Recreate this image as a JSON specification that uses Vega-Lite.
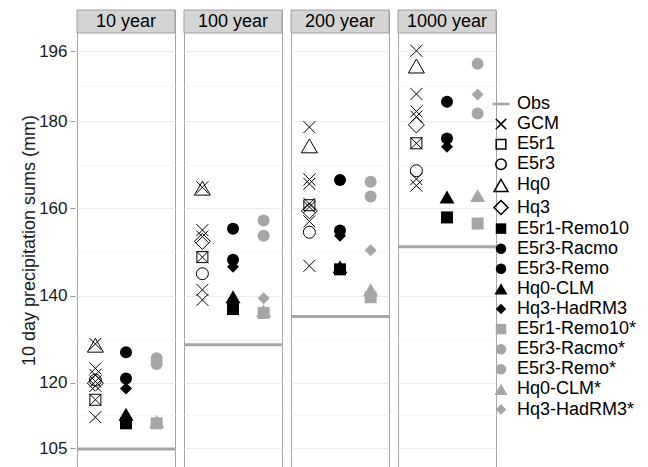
{
  "$schema": "https://vega.github.io/schema/vega-lite/v6.json",
  "autosize": "none",
  "padding": {"left": 77, "top": 10, "right": 571, "bottom": 457},
  "config": {
    "font": "Liberation Sans",
    "view": {"stroke": "#a6a6a6", "strokeWidth": 1}
  },
  "data": {
    "values": [
      {"p": "10 year", "m": "Obs", "v": 104.8},
      {"p": "10 year", "m": "GCM", "g": 1, "v": 128.9},
      {"p": "10 year", "m": "GCM", "g": 1, "v": 123.3},
      {"p": "10 year", "m": "GCM", "g": 1, "v": 121.8},
      {"p": "10 year", "m": "GCM", "g": 1, "v": 120.3},
      {"p": "10 year", "m": "GCM", "g": 1, "v": 119.3},
      {"p": "10 year", "m": "GCM", "g": 1, "v": 116.1},
      {"p": "10 year", "m": "GCM", "g": 1, "v": 112.1},
      {"p": "10 year", "m": "E5r1", "g": 1, "v": 116.1},
      {"p": "10 year", "m": "E5r3", "g": 1, "v": 120.6},
      {"p": "10 year", "m": "Hq0", "g": 1, "v": 128.6},
      {"p": "10 year", "m": "Hq3", "g": 1, "v": 119.9},
      {"p": "10 year", "m": "E5r1-Remo10", "g": 2, "v": 110.7},
      {"p": "10 year", "m": "E5r3-Racmo", "g": 2, "v": 127.0},
      {"p": "10 year", "m": "E5r3-Remo", "g": 2, "v": 121.0},
      {"p": "10 year", "m": "Hq0-CLM", "g": 2, "v": 112.8},
      {"p": "10 year", "m": "Hq3-HadRM3", "g": 2, "v": 118.7},
      {"p": "10 year", "m": "E5r1-Remo10*", "g": 3, "v": 110.7},
      {"p": "10 year", "m": "E5r3-Racmo*", "g": 3, "v": 125.6},
      {"p": "10 year", "m": "E5r3-Remo*", "g": 3, "v": 124.3},
      {"p": "10 year", "m": "Hq0-CLM*", "g": 3, "v": 111.1},
      {"p": "10 year", "m": "Hq3-HadRM3*", "g": 3, "v": 125.0},

      {"p": "100 year", "m": "Obs", "v": 128.7},
      {"p": "100 year", "m": "GCM", "g": 1, "v": 164.8},
      {"p": "100 year", "m": "GCM", "g": 1, "v": 155.0},
      {"p": "100 year", "m": "GCM", "g": 1, "v": 153.5},
      {"p": "100 year", "m": "GCM", "g": 1, "v": 148.8},
      {"p": "100 year", "m": "GCM", "g": 1, "v": 141.3},
      {"p": "100 year", "m": "GCM", "g": 1, "v": 139.0},
      {"p": "100 year", "m": "E5r1", "g": 1, "v": 148.8},
      {"p": "100 year", "m": "E5r3", "g": 1, "v": 145.0},
      {"p": "100 year", "m": "Hq0", "g": 1, "v": 164.6},
      {"p": "100 year", "m": "Hq3", "g": 1, "v": 152.4},
      {"p": "100 year", "m": "E5r1-Remo10", "g": 2, "v": 136.9},
      {"p": "100 year", "m": "E5r3-Racmo", "g": 2, "v": 155.3},
      {"p": "100 year", "m": "E5r3-Remo", "g": 2, "v": 148.2},
      {"p": "100 year", "m": "Hq0-CLM", "g": 2, "v": 139.7},
      {"p": "100 year", "m": "Hq3-HadRM3", "g": 2, "v": 146.6},
      {"p": "100 year", "m": "E5r1-Remo10*", "g": 3, "v": 136.0},
      {"p": "100 year", "m": "E5r3-Racmo*", "g": 3, "v": 157.2},
      {"p": "100 year", "m": "E5r3-Remo*", "g": 3, "v": 153.7},
      {"p": "100 year", "m": "Hq0-CLM*", "g": 3, "v": 136.5},
      {"p": "100 year", "m": "Hq3-HadRM3*", "g": 3, "v": 139.4},

      {"p": "200 year", "m": "Obs", "v": 135.2},
      {"p": "200 year", "m": "GCM", "g": 1, "v": 178.6},
      {"p": "200 year", "m": "GCM", "g": 1, "v": 166.6},
      {"p": "200 year", "m": "GCM", "g": 1, "v": 165.6},
      {"p": "200 year", "m": "GCM", "g": 1, "v": 161.0},
      {"p": "200 year", "m": "GCM", "g": 1, "v": 160.3},
      {"p": "200 year", "m": "GCM", "g": 1, "v": 157.0},
      {"p": "200 year", "m": "GCM", "g": 1, "v": 146.8},
      {"p": "200 year", "m": "E5r1", "g": 1, "v": 160.7},
      {"p": "200 year", "m": "E5r3", "g": 1, "v": 154.5},
      {"p": "200 year", "m": "Hq0", "g": 1, "v": 174.3},
      {"p": "200 year", "m": "Hq3", "g": 1, "v": 159.4},
      {"p": "200 year", "m": "E5r1-Remo10", "g": 2, "v": 146.0},
      {"p": "200 year", "m": "E5r3-Racmo", "g": 2, "v": 166.5},
      {"p": "200 year", "m": "E5r3-Remo", "g": 2, "v": 154.9},
      {"p": "200 year", "m": "Hq0-CLM", "g": 2, "v": 146.6},
      {"p": "200 year", "m": "Hq3-HadRM3", "g": 2, "v": 153.7},
      {"p": "200 year", "m": "E5r1-Remo10*", "g": 3, "v": 139.6},
      {"p": "200 year", "m": "E5r3-Racmo*", "g": 3, "v": 166.1},
      {"p": "200 year", "m": "E5r3-Remo*", "g": 3, "v": 162.7},
      {"p": "200 year", "m": "Hq0-CLM*", "g": 3, "v": 141.3},
      {"p": "200 year", "m": "Hq3-HadRM3*", "g": 3, "v": 150.4},

      {"p": "1000 year", "m": "Obs", "v": 151.2},
      {"p": "1000 year", "m": "GCM", "g": 1, "v": 196.1},
      {"p": "1000 year", "m": "GCM", "g": 1, "v": 186.2},
      {"p": "1000 year", "m": "GCM", "g": 1, "v": 182.2},
      {"p": "1000 year", "m": "GCM", "g": 1, "v": 181.0},
      {"p": "1000 year", "m": "GCM", "g": 1, "v": 174.9},
      {"p": "1000 year", "m": "GCM", "g": 1, "v": 166.7},
      {"p": "1000 year", "m": "GCM", "g": 1, "v": 165.2},
      {"p": "1000 year", "m": "E5r1", "g": 1, "v": 174.9},
      {"p": "1000 year", "m": "E5r3", "g": 1, "v": 168.6},
      {"p": "1000 year", "m": "Hq0", "g": 1, "v": 192.6},
      {"p": "1000 year", "m": "Hq3", "g": 1, "v": 179.1},
      {"p": "1000 year", "m": "E5r1-Remo10", "g": 2, "v": 157.9},
      {"p": "1000 year", "m": "E5r3-Racmo", "g": 2, "v": 184.4},
      {"p": "1000 year", "m": "E5r3-Remo", "g": 2, "v": 176.0},
      {"p": "1000 year", "m": "Hq0-CLM", "g": 2, "v": 162.6},
      {"p": "1000 year", "m": "Hq3-HadRM3", "g": 2, "v": 174.1},
      {"p": "1000 year", "m": "E5r1-Remo10*", "g": 3, "v": 156.5},
      {"p": "1000 year", "m": "E5r3-Racmo*", "g": 3, "v": 193.1},
      {"p": "1000 year", "m": "E5r3-Remo*", "g": 3, "v": 181.7},
      {"p": "1000 year", "m": "Hq0-CLM*", "g": 3, "v": 162.9},
      {"p": "1000 year", "m": "Hq3-HadRM3*", "g": 3, "v": 186.1}
    ]
  },
  "facet": {
    "column": {
      "field": "p",
      "type": "nominal",
      "sort": ["10 year", "100 year", "200 year", "1000 year"],
      "header": {"title": null, "labels": false}
    }
  },
  "spacing": {"column": 5},
  "spec": {
    "width": 98,
    "height": 460,
    "encoding": {
      "y": {
        "field": "v",
        "type": "quantitative",
        "scale": {"domain": [100, 205.45], "nice": false, "zero": false},
        "axis": {
          "title": "10 day precipitation sums (mm)",
          "titleFontSize": 18,
          "titleFontWeight": "normal",
          "titleColor": "#1a1a1a",
          "titlePadding": 0,
          "values": [105, 112.5, 120, 130, 140, 150, 160, 170, 180, 188, 196],
          "labelExpr": "indexof([105,120,140,160,180,196], datum.value) >= 0 ? datum.label : ''",
          "labelOverlap": false,
          "labelFlush": false,
          "labelFontSize": 17,
          "labelColor": "#1a1a1a",
          "labelPadding": 3,
          "tickSize": 5,
          "tickColor": "#999999",
          "tickOpacity": {"condition": {"test": "indexof([105,120,140,160,180,196], datum.value) < 0", "value": 0}, "value": 1},
          "domain": false,
          "grid": true,
          "gridColor": {"condition": {"test": "indexof([105,120,140,160,180,196], datum.value) < 0", "value": "#f5f5f5"}, "value": "#ebebeb"},
          "gridWidth": 1
        }
      }
    },
    "layer": [
      {
        "transform": [{"filter": "datum.m === 'Obs'"}],
        "mark": {"type": "rule", "color": "#a6a6a6", "strokeWidth": 3},
        "encoding": {}
      },
      {
        "transform": [{"filter": "datum.m !== 'Obs'"}],
        "mark": {"type": "point", "filled": true, "opacity": 1, "strokeWidth": 1, "size": 144},
        "encoding": {
          "x": {
            "field": "g",
            "type": "quantitative",
            "scale": {"domain": [0.4, 3.6], "nice": false, "zero": false},
            "axis": null
          },
          "shape": {
            "field": "m",
            "type": "nominal",
            "scale": {
              "domain": ["Obs", "GCM", "E5r1", "E5r3", "Hq0", "Hq3", "E5r1-Remo10", "E5r3-Racmo", "E5r3-Remo", "Hq0-CLM", "Hq3-HadRM3", "E5r1-Remo10*", "E5r3-Racmo*", "E5r3-Remo*", "Hq0-CLM*", "Hq3-HadRM3*"],
              "range": [
                "M-1.6,-0.25H1.6V0.25H-1.6Z",
                "M-1,-1L1,1M-1,1L1,-1",
                "M-0.917,-0.917H0.917V0.917H-0.917Z",
                "circle",
                "M0,-1.155L1.333,1.155L-1.333,1.155Z",
                "M0,-1.333L1.333,0L0,1.333L-1.333,0Z",
                "square",
                "circle",
                "circle",
                "M0,-1.083L1.25,1.083L-1.25,1.083Z",
                "diamond",
                "square",
                "circle",
                "circle",
                "M0,-1.083L1.25,1.083L-1.25,1.083Z",
                "diamond"
              ]
            },
            "legend": {
              "title": null,
              "orient": "none",
              "legendX": 415,
              "legendY": 85,
              "labelFontSize": 18,
              "labelColor": "#000000",
              "symbolSize": 110,
              "rowPadding": 2.1,
              "labelOffset": 7,
              "padding": 0
            }
          },
          "fill": {
            "field": "m",
            "type": "nominal",
            "scale": {
              "domain": ["Obs", "GCM", "E5r1", "E5r3", "Hq0", "Hq3", "E5r1-Remo10", "E5r3-Racmo", "E5r3-Remo", "Hq0-CLM", "Hq3-HadRM3", "E5r1-Remo10*", "E5r3-Racmo*", "E5r3-Remo*", "Hq0-CLM*", "Hq3-HadRM3*"],
              "range": ["#a6a6a6", "transparent", "transparent", "transparent", "transparent", "transparent", "#000000", "#000000", "#000000", "#000000", "#000000", "#a6a6a6", "#a6a6a6", "#a6a6a6", "#a6a6a6", "#a6a6a6"]
            },
            "legend": {
              "title": null,
              "orient": "none",
              "legendX": 415,
              "legendY": 85,
              "labelFontSize": 18,
              "labelColor": "#000000",
              "symbolSize": 110,
              "rowPadding": 2.1,
              "labelOffset": 7,
              "padding": 0
            }
          },
          "stroke": {
            "field": "m",
            "type": "nominal",
            "scale": {
              "domain": ["Obs", "GCM", "E5r1", "E5r3", "Hq0", "Hq3", "E5r1-Remo10", "E5r3-Racmo", "E5r3-Remo", "Hq0-CLM", "Hq3-HadRM3", "E5r1-Remo10*", "E5r3-Racmo*", "E5r3-Remo*", "Hq0-CLM*", "Hq3-HadRM3*"],
              "range": ["transparent", "#000000", "#000000", "#000000", "#000000", "#000000", "transparent", "transparent", "transparent", "transparent", "transparent", "transparent", "transparent", "transparent", "transparent", "transparent"]
            },
            "legend": {
              "title": null,
              "orient": "none",
              "legendX": 415,
              "legendY": 85,
              "labelFontSize": 18,
              "labelColor": "#000000",
              "symbolSize": 110,
              "rowPadding": 2.1,
              "labelOffset": 7,
              "padding": 0
            }
          }
        }
      },
      {
        "transform": [{"filter": "datum.m === 'Obs'"}],
        "mark": {"type": "rect", "fill": "#d4d4d4", "stroke": "#9e9e9e", "strokeWidth": 1},
        "encoding": {
          "x": {"datum": 0.4, "type": "quantitative"},
          "x2": {"datum": 3.6},
          "y": {"datum": 200.18, "type": "quantitative"},
          "y2": {"datum": 205.45}
        }
      },
      {
        "transform": [{"filter": "datum.m === 'Obs'"}],
        "mark": {"type": "text", "fontSize": 18, "color": "#000000", "baseline": "middle", "align": "center"},
        "encoding": {
          "x": {"datum": 2, "type": "quantitative"},
          "y": {"datum": 202.75, "type": "quantitative"},
          "text": {"field": "p"}
        }
      }
    ]
  }
}
